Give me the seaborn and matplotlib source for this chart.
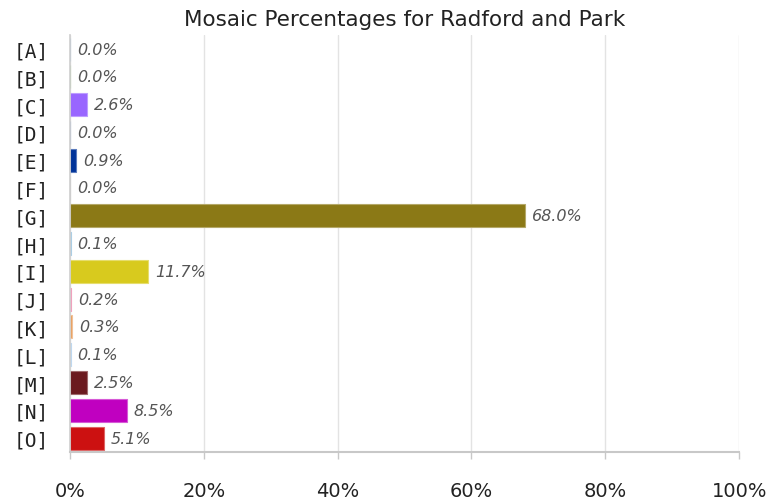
import matplotlib
matplotlib.use("Agg")
import matplotlib.pyplot as plt
import matplotlib.colors as mcolors
import seaborn as sns
import pandas as pd
import numpy as np

categories = ["[A]", "[B]", "[C]", "[D]", "[E]", "[F]", "[G]", "[H]",
              "[I]", "[J]", "[K]", "[L]", "[M]", "[N]", "[O]"]
values = [0.0, 0.0, 2.6, 0.0, 0.9, 0.0, 68.0, 0.1,
          11.7, 0.2, 0.3, 0.1, 2.5, 8.5, 5.1]
colors = ["#5B9BD5", "#70AD47", "#9966FF", "#4472C4", "#003399", "#A5A5A5",
          "#8B7916", "#7FB3D5", "#D8CA1E", "#E8709A", "#E8A060", "#9DC3E6",
          "#6B1A1F", "#C000C0", "#CC1111"]
xticks = [0, 20, 40, 60, 80, 100]

df = pd.DataFrame({"group": categories, "pct": values})

sns.set_theme(style="white")
plt.rcParams["font.family"] = ["DejaVu Sans"]

fig = plt.figure(figsize=(7.74, 5.02), dpi=100)
ax = fig.add_axes([0.0904, 0.0976, 0.8646, 0.8304])

sns.barplot(data=df, x="pct", y="group", hue="group", palette=colors,
            order=categories, hue_order=categories, legend=False,
            orient="h", width=0.83, saturation=1, ax=ax)

# lighter outline around each bar
for patch in ax.patches:
    fc = np.array(mcolors.to_rgb(patch.get_facecolor()))
    patch.set_edgecolor(tuple(fc + (1 - fc) * 0.35))
    patch.set_linewidth(0.8)

ax.set_xlim(0, 100)
ax.set_ylim(len(categories) - 0.5, -0.5)
ax.set_xticks(xticks)
ax.set_xticklabels([f"{t}%" for t in xticks], fontsize=14, color="#222222")
ax.tick_params(axis="x", length=5, width=1, color="#c8c8c8", pad=16, bottom=True)
ax.tick_params(axis="y", length=0, pad=15)
for lbl in ax.get_yticklabels():
    lbl.set_fontfamily("DejaVu Sans Mono")
    lbl.set_fontsize(14)
    lbl.set_color("#222222")

ax.grid(axis="x", color="#e3e3e3", linewidth=1)
ax.set_axisbelow(True)
for side in ["top", "right"]:
    ax.spines[side].set_visible(False)
ax.spines["left"].set_color("#d0d0d0")
ax.spines["bottom"].set_color("#c8c8c8")
ax.spines["bottom"].set_linewidth(1.5)

ax.set_xlabel("")
ax.set_ylabel("")

for i, v in enumerate(values):
    ax.annotate(f"{v:.1f}%", xy=(v, i), xytext=(5, 0), textcoords="offset points",
                va="center", ha="left", fontsize=11.5, style="italic", color="#555555")

ax.set_title("Mosaic Percentages for Radford and Park", fontsize=15.5,
             color="#222222", pad=7)

fig.savefig("out.png", dpi=100)
